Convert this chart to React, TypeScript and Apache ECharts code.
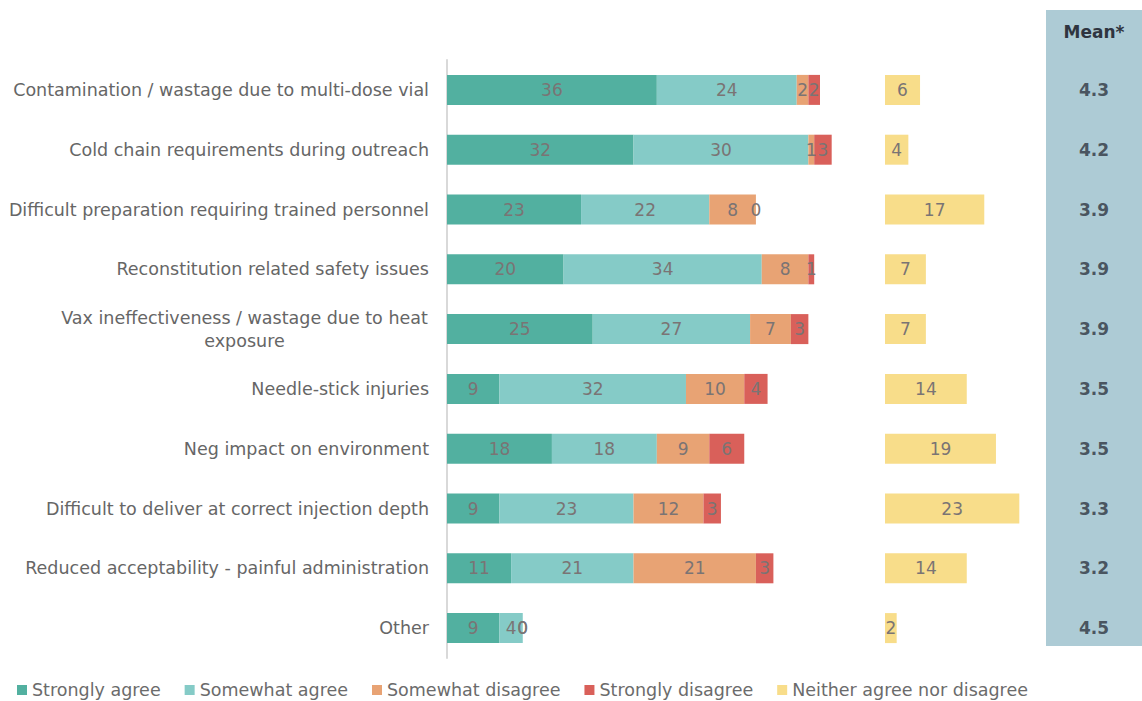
import React, { useEffect, useRef } from "react";
import * as echarts from "echarts";

const categories = [
  "Contamination / wastage due to multi-dose vial",
  "Cold chain requirements during outreach",
  "Difficult preparation requiring trained personnel",
  "Reconstitution related safety issues",
  "Vax ineffectiveness / wastage due to heat\nexposure",
  "Needle-stick injuries",
  "Neg impact on environment",
  "Difficult to deliver at correct injection depth",
  "Reduced acceptability - painful administration",
  "Other",
];
const stronglyAgree = [36, 32, 23, 20, 25, 9, 18, 9, 11, 9];
const somewhatAgree = [24, 30, 22, 34, 27, 32, 18, 23, 21, 4];
const somewhatDisagree = [2, 1, 8, 8, 7, 10, 9, 12, 21, 0];
const stronglyDisagree = [2, 3, 0, 1, 3, 4, 6, 3, 3, 0];
const neither = [6, 4, 17, 7, 7, 14, 19, 23, 14, 2];
const means = ["4.3", "4.2", "3.9", "3.9", "3.9", "3.5", "3.5", "3.3", "3.2", "4.5"];

const FONT = "DejaVu Sans";
const LABEL_COLOR = "#7a7474";
const CAT_SIZE = 17.5;

export default function App() {
  const ref = useRef<HTMLDivElement>(null);
  useEffect(() => {
    if (!ref.current) return;
    const chart = echarts.init(ref.current, null, { renderer: "svg" });
    const gridTop = 60;
    const gridH = 598;
    const lbl = {
      show: true,
      position: "inside" as const,
      color: LABEL_COLOR,
      fontFamily: FONT,
      fontSize: 17,
    };
    const stackSeries = (name: string, data: number[], color: string, showZero: boolean) => ({
      name,
      type: "bar",
      stack: "a",
      xAxisIndex: 0,
      yAxisIndex: 0,
      barWidth: 30,
      data,
      itemStyle: { color },
      label: {
        ...lbl,
        formatter: (p: any) => (p.value === 0 && !showZero ? "" : String(p.value)),
      },
    });
    chart.setOption({
      animation: false,
      backgroundColor: "#ffffff",
      graphic: [
        {
          type: "rect",
          shape: { x: 1046, y: 10, width: 96, height: 636 },
          style: { fill: "#adcbd5" },
          z: -1,
        },
        {
          type: "text",
          x: 1094,
          y: 32,
          style: {
            text: "Mean*",
            fill: "#2f3540",
            font: `bold 17px ${FONT}`,
            textAlign: "center",
            textVerticalAlign: "middle",
          },
        },
      ],
      legend: {
        bottom: -3,
        left: 12,
        itemWidth: 10,
        itemHeight: 10,
        itemGap: 24,
        icon: "rect",
        textStyle: { color: "#6b6b6b", fontFamily: FONT, fontSize: 17.5 },
        data: [
          "Strongly agree",
          "Somewhat agree",
          "Somewhat disagree",
          "Strongly disagree",
          "Neither agree nor disagree",
        ],
      },
      grid: [
        { left: 447, top: gridTop, width: 408, height: gridH },
        { left: 885, top: gridTop, width: 146, height: gridH },
        { left: 1046, top: gridTop, width: 96, height: gridH },
      ],
      xAxis: [
        { gridIndex: 0, type: "value", min: 0, max: 70, show: false },
        { gridIndex: 1, type: "value", min: 0, max: 25, show: false },
        { gridIndex: 2, type: "value", min: -1, max: 1, show: false },
      ],
      yAxis: [
        {
          gridIndex: 0,
          type: "category",
          data: categories,
          inverse: true,
          axisLine: { show: true, lineStyle: { color: "#d9d9d9", width: 2 } },
          axisTick: { show: false },
          axisLabel: {
            color: "#666666",
            fontFamily: FONT,
            fontSize: CAT_SIZE,
            margin: 18,
            lineHeight: 23,
            align: "right",
            formatter: (v: string) => {
              if (v.indexOf("\n") < 0) return v;
              return v
                .split("\n")
                .map((s) => `{c|${s}}`)
                .join("\n");
            },
            rich: {
              c: {
                width: 369,
                align: "center",
                color: "#666666",
                fontFamily: FONT,
                fontSize: CAT_SIZE,
                lineHeight: 23,
              },
            },
          },
        },
        { gridIndex: 1, type: "category", data: categories, inverse: true, show: false },
        { gridIndex: 2, type: "category", data: categories, inverse: true, show: false },
      ],
      series: [
        stackSeries("Strongly agree", stronglyAgree, "#52b0a0", false),
        stackSeries("Somewhat agree", somewhatAgree, "#85cbc7", false),
        stackSeries("Somewhat disagree", somewhatDisagree, "#e8a374", true),
        stackSeries("Strongly disagree", stronglyDisagree, "#d9605a", true),
        {
          name: "Neither agree nor disagree",
          type: "bar",
          xAxisIndex: 1,
          yAxisIndex: 1,
          barWidth: 30,
          data: neither,
          itemStyle: { color: "#f8dd8a" },
          label: { ...lbl },
        },
        {
          name: "Mean",
          type: "scatter",
          xAxisIndex: 2,
          yAxisIndex: 2,
          symbolSize: 0,
          data: means.map((m, i) => [0, i, m]),
          label: {
            show: true,
            position: "inside",
            formatter: (p: any) => p.value[2],
            color: "#2f3540",
            fontFamily: FONT,
            fontWeight: "bold",
            fontSize: 17,
          },
        },
      ],
    });
    return () => chart.dispose();
  }, []);
  return <div ref={ref} style={{ width: 1142, height: 701, position: "absolute", left: 0, top: 0 }} />;
}
